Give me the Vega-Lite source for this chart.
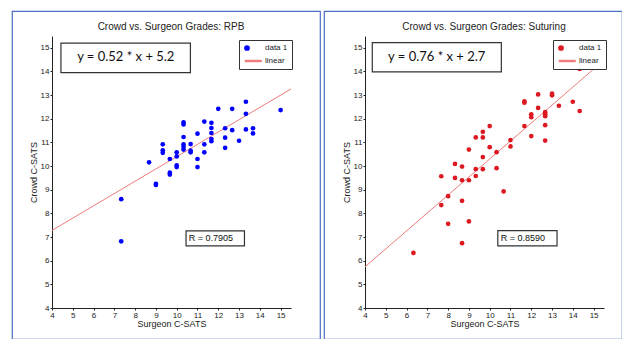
{
  "$schema": "https://vega.github.io/schema/vega-lite/v6.json",
  "padding": {"left": 11, "top": 10, "right": 0, "bottom": 0},
  "background": "white",
  "spacing": 4,
  "bounds": "flush",
  "config": {
    "view": {"stroke": "#4a6fc4", "strokeWidth": 1.2},
    "axis": {"domainColor": "#222", "tickColor": "#222", "labelColor": "#222", "titleColor": "#222", "labelFont": "Liberation Sans", "titleFont": "Liberation Sans", "labelFontSize": 8, "titleFontSize": 9, "titleFontWeight": "normal", "grid": false, "tickSize": 2, "labelPadding": 1, "labelOverlap": false, "labelFlush": false, "tickCount": 12},
    "title": {"font": "Liberation Sans", "fontSize": 10, "fontWeight": "normal", "color": "#222"},
    "legend": {"labelFont": "Liberation Sans", "labelFontSize": 8, "labelColor": "#222"}
  },
  "datasets": {
    "rpb": [
      {"x": 7.33, "y": 8.6, "series": "data 1"}, {"x": 7.33, "y": 6.82, "series": "data 1"},
      {"x": 9.0, "y": 9.25, "series": "data 1"}, {"x": 9.0, "y": 9.2, "series": "data 1"},
      {"x": 8.67, "y": 10.16, "series": "data 1"}, {"x": 9.33, "y": 10.92, "series": "data 1"},
      {"x": 9.33, "y": 10.67, "series": "data 1"}, {"x": 9.33, "y": 10.56, "series": "data 1"},
      {"x": 9.67, "y": 10.3, "series": "data 1"}, {"x": 9.67, "y": 9.72, "series": "data 1"},
      {"x": 9.67, "y": 9.64, "series": "data 1"}, {"x": 10.0, "y": 10.58, "series": "data 1"},
      {"x": 10.0, "y": 10.41, "series": "data 1"}, {"x": 10.0, "y": 10.03, "series": "data 1"},
      {"x": 10.0, "y": 9.96, "series": "data 1"}, {"x": 10.33, "y": 11.85, "series": "data 1"},
      {"x": 10.33, "y": 11.76, "series": "data 1"}, {"x": 10.33, "y": 11.23, "series": "data 1"},
      {"x": 10.33, "y": 10.92, "series": "data 1"}, {"x": 10.33, "y": 10.82, "series": "data 1"},
      {"x": 10.33, "y": 10.7, "series": "data 1"}, {"x": 10.67, "y": 10.93, "series": "data 1"},
      {"x": 10.67, "y": 10.65, "series": "data 1"}, {"x": 10.67, "y": 10.58, "series": "data 1"},
      {"x": 11.0, "y": 11.37, "series": "data 1"}, {"x": 11.0, "y": 10.3, "series": "data 1"},
      {"x": 11.0, "y": 9.96, "series": "data 1"}, {"x": 11.33, "y": 11.88, "series": "data 1"},
      {"x": 11.33, "y": 10.92, "series": "data 1"}, {"x": 11.33, "y": 10.58, "series": "data 1"},
      {"x": 11.67, "y": 11.83, "series": "data 1"}, {"x": 11.67, "y": 11.61, "series": "data 1"},
      {"x": 11.67, "y": 11.4, "series": "data 1"}, {"x": 11.67, "y": 11.14, "series": "data 1"},
      {"x": 11.67, "y": 11.05, "series": "data 1"}, {"x": 12.0, "y": 12.42, "series": "data 1"},
      {"x": 12.33, "y": 11.6, "series": "data 1"}, {"x": 12.33, "y": 11.2, "series": "data 1"},
      {"x": 12.33, "y": 10.77, "series": "data 1"}, {"x": 12.67, "y": 12.42, "series": "data 1"},
      {"x": 12.67, "y": 11.52, "series": "data 1"}, {"x": 13.0, "y": 11.07, "series": "data 1"},
      {"x": 13.33, "y": 12.72, "series": "data 1"}, {"x": 13.33, "y": 12.21, "series": "data 1"},
      {"x": 13.33, "y": 11.55, "series": "data 1"}, {"x": 13.67, "y": 11.6, "series": "data 1"},
      {"x": 13.67, "y": 11.38, "series": "data 1"}, {"x": 15.0, "y": 12.37, "series": "data 1"}
    ],
    "rpbFit": [
      {"x": 4, "y": 7.28, "series": "linear"}, {"x": 15.5, "y": 13.26, "series": "linear"}
    ],
    "sut": [
      {"x": 6.33, "y": 6.33, "series": "data 1"}, {"x": 7.67, "y": 9.57, "series": "data 1"},
      {"x": 7.67, "y": 8.35, "series": "data 1"}, {"x": 8.0, "y": 8.73, "series": "data 1"},
      {"x": 8.0, "y": 7.56, "series": "data 1"}, {"x": 8.33, "y": 10.09, "series": "data 1"},
      {"x": 8.33, "y": 9.5, "series": "data 1"}, {"x": 8.67, "y": 9.98, "series": "data 1"},
      {"x": 8.67, "y": 9.4, "series": "data 1"}, {"x": 8.67, "y": 8.53, "series": "data 1"},
      {"x": 8.67, "y": 6.74, "series": "data 1"}, {"x": 9.0, "y": 10.7, "series": "data 1"},
      {"x": 9.0, "y": 9.4, "series": "data 1"}, {"x": 9.0, "y": 7.66, "series": "data 1"},
      {"x": 9.33, "y": 11.21, "series": "data 1"}, {"x": 9.33, "y": 9.87, "series": "data 1"},
      {"x": 9.33, "y": 9.58, "series": "data 1"}, {"x": 9.67, "y": 11.45, "series": "data 1"},
      {"x": 9.67, "y": 11.21, "series": "data 1"}, {"x": 9.67, "y": 10.38, "series": "data 1"},
      {"x": 9.67, "y": 9.87, "series": "data 1"}, {"x": 10.0, "y": 11.69, "series": "data 1"},
      {"x": 10.0, "y": 10.8, "series": "data 1"}, {"x": 10.33, "y": 10.59, "series": "data 1"},
      {"x": 10.33, "y": 9.91, "series": "data 1"}, {"x": 10.67, "y": 8.93, "series": "data 1"},
      {"x": 11.0, "y": 11.1, "series": "data 1"}, {"x": 11.0, "y": 10.83, "series": "data 1"},
      {"x": 11.67, "y": 12.74, "series": "data 1"}, {"x": 11.67, "y": 12.68, "series": "data 1"},
      {"x": 11.67, "y": 11.69, "series": "data 1"}, {"x": 12.0, "y": 12.19, "series": "data 1"},
      {"x": 12.0, "y": 12.07, "series": "data 1"}, {"x": 12.0, "y": 11.27, "series": "data 1"},
      {"x": 12.33, "y": 13.03, "series": "data 1"}, {"x": 12.33, "y": 12.46, "series": "data 1"},
      {"x": 12.67, "y": 12.28, "series": "data 1"}, {"x": 12.67, "y": 12.19, "series": "data 1"},
      {"x": 12.67, "y": 12.11, "series": "data 1"}, {"x": 12.67, "y": 11.73, "series": "data 1"},
      {"x": 12.67, "y": 11.08, "series": "data 1"}, {"x": 13.0, "y": 13.06, "series": "data 1"},
      {"x": 13.0, "y": 12.99, "series": "data 1"}, {"x": 13.33, "y": 12.55, "series": "data 1"},
      {"x": 14.0, "y": 12.72, "series": "data 1"}, {"x": 14.33, "y": 14.11, "series": "data 1"},
      {"x": 14.33, "y": 12.33, "series": "data 1"}
    ],
    "sutFit": [
      {"x": 4, "y": 5.74, "series": "linear"}, {"x": 15.5, "y": 14.48, "series": "linear"}
    ],
    "rpbNotes": [
      {"label": "y = 0.52 * x + 5.2", "x1": 4.43, "x2": 10.66, "y1": 13.95, "y2": 15.2, "tx": 7.55, "ty": 14.6, "kind": "eq"},
      {"label": "R = 0.7905", "x1": 10.45, "x2": 13.26, "y1": 6.63, "y2": 7.26, "tx": 10.58, "ty": 6.95, "kind": "r"}
    ],
    "sutNotes": [
      {"label": "y = 0.76 * x + 2.7", "x1": 4.35, "x2": 10.56, "y1": 13.98, "y2": 15.22, "tx": 7.45, "ty": 14.62, "kind": "eq"},
      {"label": "R = 0.8590", "x1": 10.39, "x2": 13.24, "y1": 6.63, "y2": 7.27, "tx": 10.53, "ty": 6.95, "kind": "r"}
    ]
  },
  "hconcat": [
    {
      "width": 308,
      "height": 328,
      "title": {"text": "Crowd vs. Surgeon Grades: RPB", "offset": -21, "dx": 5},
      "layer": [
        {
          "data": {"name": "rpbNotes"},
          "mark": {"type": "rect", "fill": "white", "stroke": "#333", "strokeWidth": 1.2},
          "encoding": {
            "x": {"field": "x1", "type": "quantitative", "title": "Surgeon C-SATS", "scale": {"domain": [4, 15.5], "range": [40, 279], "zero": false, "nice": false}, "axis": {"offset": -31, "values": [4, 5, 6, 7, 8, 9, 10, 11, 12, 13, 14, 15], "tickCount": 12, "titlePadding": 0, "labelOverlap": false}},
            "x2": {"field": "x2"},
            "y": {"field": "y1", "type": "quantitative", "title": "Crowd C-SATS", "scale": {"domain": [4, 15.5], "range": [297, 25], "zero": false, "nice": false}, "axis": {"offset": -40, "values": [4, 5, 6, 7, 8, 9, 10, 11, 12, 13, 14, 15], "tickCount": 12, "titlePadding": 2, "labelOverlap": false}},
            "y2": {"field": "y2"}
          }
        },
        {
          "data": {"name": "rpbNotes"},
          "transform": [{"filter": "datum.kind === 'eq'"}],
          "mark": {"type": "text", "font": "Lato", "fontSize": 13, "color": "#111", "align": "center", "baseline": "middle"},
          "encoding": {
            "x": {"field": "tx", "type": "quantitative"},
            "y": {"field": "ty", "type": "quantitative"},
            "text": {"field": "label"}
          }
        },
        {
          "data": {"name": "rpbNotes"},
          "transform": [{"filter": "datum.kind === 'r'"}],
          "mark": {"type": "text", "font": "Liberation Sans", "fontSize": 9, "color": "#111", "align": "left", "baseline": "middle"},
          "encoding": {
            "x": {"field": "tx", "type": "quantitative"},
            "y": {"field": "ty", "type": "quantitative"},
            "text": {"field": "label"}
          }
        },
        {
          "data": {"name": "rpbFit"},
          "mark": {"type": "line", "strokeWidth": 1},
          "encoding": {
            "x": {"field": "x", "type": "quantitative"},
            "y": {"field": "y", "type": "quantitative"},
            "color": {"field": "series", "type": "nominal", "scale": {"domain": ["data 1", "linear"], "range": ["#0000ff", "#ef7b7b"]}}
          }
        },
        {
          "data": {"name": "rpb"},
          "mark": {"type": "point", "filled": true, "size": 22, "opacity": 1},
          "encoding": {
            "x": {"field": "x", "type": "quantitative"},
            "y": {"field": "y", "type": "quantitative"},
            "color": {"field": "series", "type": "nominal", "scale": {"domain": ["data 1", "linear"], "range": ["#0000ff", "#ef7b7b"]},
              "legend": {"title": null, "orient": "none", "legendX": 227, "legendY": 29, "strokeColor": "#333", "fillColor": "white", "padding": 4, "symbolSize": 18, "rowPadding": 3, "labelOffset": 14, "symbolOpacity": 1}},
            "shape": {"field": "series", "type": "nominal", "scale": {"domain": ["data 1", "linear"], "range": ["circle", "M-0.7,-0.22H6.6V0.22H-0.7Z"]},
              "legend": {"title": null, "orient": "none", "legendX": 227, "legendY": 29, "strokeColor": "#333", "fillColor": "white", "padding": 4, "symbolSize": 18, "rowPadding": 3, "labelOffset": 14, "symbolOpacity": 1}}
          }
        }
      ]
    },
    {
      "width": 298,
      "height": 328,
      "title": {"text": "Crowd vs. Surgeon Grades: Suturing", "offset": -21, "dx": 11},
      "layer": [
        {
          "data": {"name": "sutNotes"},
          "mark": {"type": "rect", "fill": "white", "stroke": "#333", "strokeWidth": 1.2},
          "encoding": {
            "x": {"field": "x1", "type": "quantitative", "title": "Surgeon C-SATS", "scale": {"domain": [4, 15.5], "range": [41, 280], "zero": false, "nice": false}, "axis": {"offset": -31, "values": [4, 5, 6, 7, 8, 9, 10, 11, 12, 13, 14, 15], "tickCount": 12, "titlePadding": 0, "labelOverlap": false}},
            "x2": {"field": "x2"},
            "y": {"field": "y1", "type": "quantitative", "title": "Crowd C-SATS", "scale": {"domain": [4, 15.5], "range": [297, 25], "zero": false, "nice": false}, "axis": {"offset": -41, "values": [4, 5, 6, 7, 8, 9, 10, 11, 12, 13, 14, 15], "tickCount": 12, "titlePadding": 2, "labelOverlap": false}},
            "y2": {"field": "y2"}
          }
        },
        {
          "data": {"name": "sutNotes"},
          "transform": [{"filter": "datum.kind === 'eq'"}],
          "mark": {"type": "text", "font": "Lato", "fontSize": 13, "color": "#111", "align": "center", "baseline": "middle"},
          "encoding": {
            "x": {"field": "tx", "type": "quantitative"},
            "y": {"field": "ty", "type": "quantitative"},
            "text": {"field": "label"}
          }
        },
        {
          "data": {"name": "sutNotes"},
          "transform": [{"filter": "datum.kind === 'r'"}],
          "mark": {"type": "text", "font": "Liberation Sans", "fontSize": 9, "color": "#111", "align": "left", "baseline": "middle"},
          "encoding": {
            "x": {"field": "tx", "type": "quantitative"},
            "y": {"field": "ty", "type": "quantitative"},
            "text": {"field": "label"}
          }
        },
        {
          "data": {"name": "sutFit"},
          "mark": {"type": "line", "strokeWidth": 1},
          "encoding": {
            "x": {"field": "x", "type": "quantitative"},
            "y": {"field": "y", "type": "quantitative"},
            "color": {"field": "series", "type": "nominal", "scale": {"domain": ["data 1", "linear"], "range": ["#dc1820", "#ef7b7b"]}}
          }
        },
        {
          "data": {"name": "sut"},
          "mark": {"type": "point", "filled": true, "size": 22, "opacity": 1},
          "encoding": {
            "x": {"field": "x", "type": "quantitative"},
            "y": {"field": "y", "type": "quantitative"},
            "color": {"field": "series", "type": "nominal", "scale": {"domain": ["data 1", "linear"], "range": ["#dc1820", "#ef7b7b"]},
              "legend": {"title": null, "orient": "none", "legendX": 229, "legendY": 29, "strokeColor": "#333", "fillColor": "white", "padding": 4, "symbolSize": 18, "rowPadding": 3, "labelOffset": 14, "symbolOpacity": 1}},
            "shape": {"field": "series", "type": "nominal", "scale": {"domain": ["data 1", "linear"], "range": ["circle", "M-0.7,-0.22H6.6V0.22H-0.7Z"]},
              "legend": {"title": null, "orient": "none", "legendX": 229, "legendY": 29, "strokeColor": "#333", "fillColor": "white", "padding": 4, "symbolSize": 18, "rowPadding": 3, "labelOffset": 14, "symbolOpacity": 1}}
          }
        }
      ]
    }
  ],
  "resolve": {"scale": {"color": "independent", "shape": "independent", "x": "independent", "y": "independent"}, "legend": {"color": "independent", "shape": "independent"}}
}
